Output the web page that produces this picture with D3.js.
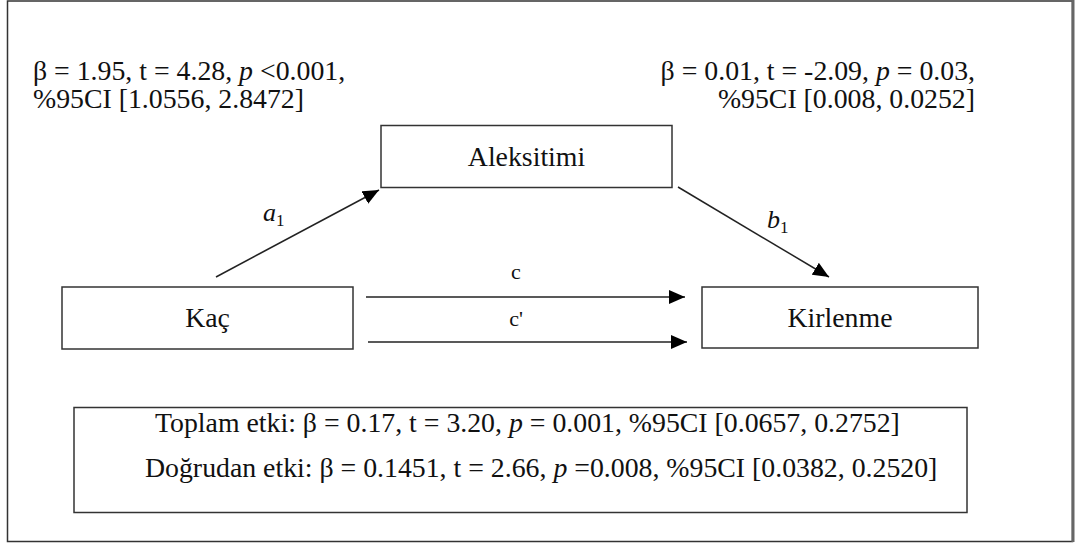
<!DOCTYPE html>
<html>
<head>
<meta charset="utf-8">
<script src="https://cdn.jsdelivr.net/npm/d3@7"></script>
<style>
  html, body { margin: 0; padding: 0; background: #fff; }
  svg { display: block; }
  text { font-family: "Liberation Serif", "Times New Roman", serif; fill: #111; }
</style>
</head>
<body>
<svg id="chart" width="1076" height="544"></svg>
<script>
// ---- data ----
const nodeNames = ["Aleksitimi", "Kaç", "Kirlenme"];
const statsA = ["β = 1.95, t = 4.28, *p* <0.001,", "%95CI [1.0556, 2.8472]"];
const statsB = ["β = 0.01, t = -2.09, *p* = 0.03,", "%95CI [0.008, 0.0252]"];
const pathLabels = [["a", "1"], ["b", "1"], ["c", ""], ["c'", ""]];
const effectLines = [
  "Toplam etki: β = 0.17, t = 3.20, *p* = 0.001, %95CI [0.0657, 0.2752]",
  "Doğrudan etki: β = 0.1451, t = 2.66, *p* =0.008, %95CI [0.0382, 0.2520]"
];

// ---- layout ----
const svg = d3.select("#chart");
const FS = 27.8;

// outer frame
svg.append("rect").attr("x", 7.5).attr("y", 1).attr("width", 1065).attr("height", 540.5)
  .attr("fill", "none").attr("stroke", "#333").attr("stroke-width", 1.5);
svg.append("line").attr("x1", 1073).attr("x2", 1073).attr("y1", 0).attr("y2", 542)
  .attr("stroke", "#666").attr("stroke-width", 3);

const boxes = [
  { name: nodeNames[0], x: 381, y: 125.5, w: 291, h: 62 },
  { name: nodeNames[1], x: 62, y: 287, w: 291, h: 62 },
  { name: nodeNames[2], x: 702, y: 287, w: 276, h: 61 }
];

svg.selectAll("rect.node").data(boxes).join("rect").attr("class", "node")
  .attr("x", d => d.x).attr("y", d => d.y).attr("width", d => d.w).attr("height", d => d.h)
  .attr("fill", "#fff").attr("stroke", "#333").attr("stroke-width", 1.5);

svg.selectAll("text.node").data(boxes).join("text").attr("class", "node")
  .attr("x", d => d.x + d.w / 2).attr("y", d => d.y + d.h / 2 + 9)
  .attr("text-anchor", "middle").attr("font-size", FS)
  .text(d => d.name);

// rich text helper: *p* -> italic
function rich(sel, str) {
  const parts = str.split("*");
  parts.forEach((p, i) => {
    if (!p) return;
    sel.append("tspan").attr("font-style", i % 2 ? "italic" : null).text(p);
  });
}

function block(lines, x, y0, dy, anchor) {
  lines.forEach((l, i) => {
    const t = svg.append("text").attr("x", x).attr("y", y0 + i * dy)
      .attr("font-size", FS).attr("text-anchor", anchor);
    rich(t, l);
  });
}

block(statsA, 33, 80, 28, "start");
block(statsB, 975, 80, 28, "end");

// arrows
const defs = svg.append("defs");
defs.append("marker").attr("id", "arr").attr("viewBox", "0 0 16 14")
  .attr("refX", 16).attr("refY", 7).attr("markerWidth", 16).attr("markerHeight", 14)
  .attr("markerUnits", "userSpaceOnUse").attr("orient", "auto")
  .append("path").attr("d", "M0,0 L16,7 L0,14 Z").attr("fill", "#000");

const arrows = [
  { x1: 216, y1: 277, x2: 379, y2: 190 },
  { x1: 678, y1: 187, x2: 829, y2: 277 },
  { x1: 366, y1: 297, x2: 685, y2: 297 },
  { x1: 368, y1: 342, x2: 687, y2: 342 }
];
svg.selectAll("line.arrow").data(arrows).join("line").attr("class", "arrow")
  .attr("x1", d => d.x1).attr("y1", d => d.y1).attr("x2", d => d.x2).attr("y2", d => d.y2)
  .attr("stroke", "#222").attr("stroke-width", 1.5).attr("marker-end", "url(#arr)");

// path labels
const labelPos = [
  { x: 263, y: 221, italic: true },
  { x: 767, y: 228, italic: true },
  { x: 516, y: 279, italic: false, mid: true },
  { x: 516, y: 326, italic: false, mid: true }
];
pathLabels.forEach((lab, i) => {
  const p = labelPos[i];
  const t = svg.append("text").attr("x", p.x).attr("y", p.y)
    .attr("font-size", p.italic ? 26 : 22)
    .attr("text-anchor", p.mid ? "middle" : "start");
  t.append("tspan").attr("font-style", p.italic ? "italic" : null).text(lab[0]);
  if (lab[1]) t.append("tspan").attr("font-size", 17).attr("dy", 5).text(lab[1]);
});

// effects box
svg.append("rect").attr("x", 74).attr("y", 407.5).attr("width", 893).attr("height", 105)
  .attr("fill", "#fff").attr("stroke", "#333").attr("stroke-width", 1.5);
const effX = [155, 145];
effectLines.forEach((l, i) => {
  const t = svg.append("text").attr("x", effX[i]).attr("y", 432 + i * 45).attr("font-size", FS);
  rich(t, l);
});
</script>
</body>
</html>
